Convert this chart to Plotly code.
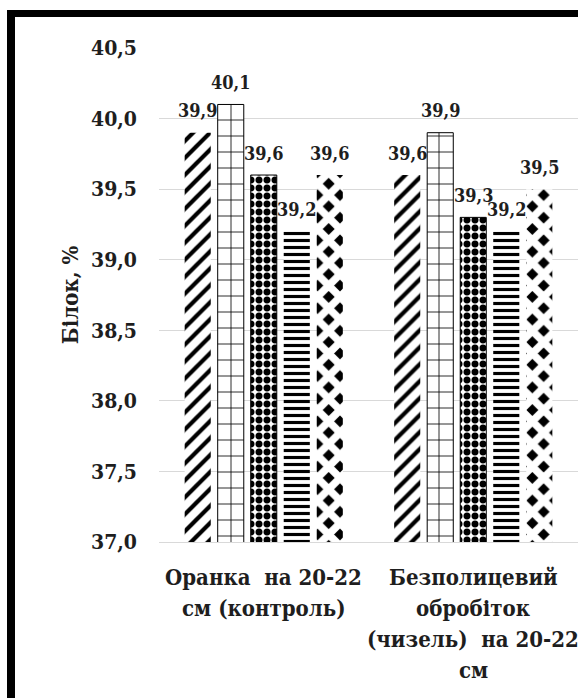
import plotly.graph_objects as go

# Protein content by tillage method, five treatments per tillage group
categories = [
    "Оранка\u00a0 на 20-22<br>см (контроль)",
    "Безполицевий<br>обробіток<br>(чизель)\u00a0 на 20-22<br>см",
]
series_names = ["Варіант 1", "Варіант 2", "Варіант 3", "Варіант 4", "Варіант 5"]
values_1 = [39.9, 39.6]
values_2 = [40.1, 39.9]
values_3 = [39.6, 39.3]
values_4 = [39.2, 39.2]
values_5 = [39.6, 39.5]
y_ticks = [37.0, 37.5, 38.0, 38.5, 39.0, 39.5, 40.0, 40.5]

series = [values_1, values_2, values_3, values_4, values_5]

# Black-and-white fill patterns, one per series
patterns = [
    dict(shape="/", size=12, solidity=0.35, fgcolor="black", bgcolor="white", fgopacity=1),
    dict(shape="+", size=16, solidity=0.1, fgcolor="black", bgcolor="white", fgopacity=1),
    dict(shape=".", size=8, solidity=0.6, fgcolor="black", bgcolor="white", fgopacity=1),
    dict(shape="-", size=7, solidity=0.45, fgcolor="black", bgcolor="white", fgopacity=1),
    dict(shape="x", size=16, solidity=0.72, fgcolor="white", bgcolor="black", fgopacity=1),
]
outline = [0, 1, 1, 0, 0]

W, H = 578, 698
ML, MR, MT, MB = 159, 0, 48, 156
BARGAP = 0.212
GROUPGAP = 0.21

SERIF = "DejaVu Serif Condensed, DejaVu Serif"
TXT = "#1e1e1e"

fig = go.Figure()
for name, vals, pat, lw in zip(series_names, series, patterns, outline):
    fig.add_trace(
        go.Bar(
            x=categories,
            y=vals,
            name=name,
            marker=dict(color="white", pattern=pat, line=dict(color="black", width=lw)),
            showlegend=False,
        )
    )

annotations = []

# Value labels centred above each bar of the grouped layout
n = len(series)
slot = (1 - BARGAP) / n
for i, vals in enumerate(series):
    offset = -(1 - BARGAP) / 2 + (i + 0.5) * slot
    for c, v in enumerate(vals):
        annotations.append(
            dict(
                x=c + offset,
                y=v,
                xref="x",
                yref="y",
                text=f"{v:.1f}".replace(".", ","),
                showarrow=False,
                yanchor="middle",
                yshift=22,
                font=dict(family=SERIF, size=18, color=TXT, weight="bold"),
            )
        )

# Category labels, one line at a time for wider line spacing
LINE_STEP = 31
for c, label in enumerate(categories):
    for k, line in enumerate(label.split("<br>")):
        annotations.append(
            dict(
                x=c,
                y=0,
                xref="x",
                yref="paper",
                text=line,
                showarrow=False,
                yanchor="middle",
                yshift=-(35 + k * LINE_STEP),
                font=dict(family=SERIF, size=22, color=TXT, weight="bold"),
            )
        )

# Heavy frame on the top and left edges
pw = W - ML - MR
ph = H - MT - MB


def px_x(p):
    return (p - ML) / pw


def px_y(p):
    return (H - MB - p) / ph


shapes = [
    dict(type="rect", xref="paper", yref="paper",
         x0=px_x(7), x1=px_x(W + 5), y0=px_y(17), y1=px_y(10),
         fillcolor="black", line=dict(width=0), layer="above"),
    dict(type="rect", xref="paper", yref="paper",
         x0=px_x(7), x1=px_x(15), y0=px_y(H + 5), y1=px_y(10),
         fillcolor="black", line=dict(width=0), layer="above"),
]

fig.update_layout(
    width=W,
    height=H,
    margin=dict(l=ML, r=MR, t=MT, b=MB, pad=0),
    paper_bgcolor="white",
    plot_bgcolor="white",
    barmode="group",
    bargap=BARGAP,
    bargroupgap=GROUPGAP,
    separators=",.",
    annotations=annotations,
    shapes=shapes,
    font=dict(family=SERIF, color=TXT),
)

fig.update_xaxes(
    type="category",
    range=[-0.5, 1.5],
    showgrid=False,
    showline=True,
    linecolor="#d9d9d9",
    linewidth=1,
    ticks="",
    showticklabels=False,
)
fig.update_yaxes(
    range=[37.0, 40.5],
    tickvals=y_ticks,
    tickformat=".1f",
    showgrid=True,
    gridcolor="#d9d9d9",
    gridwidth=1,
    zeroline=False,
    showline=False,
    ticks="",
    ticklabelstandoff=21,
    tickfont=dict(family=SERIF, size=21, color=TXT, weight="bold"),
    title=dict(
        text="Білок, %",
        standoff=6,
        font=dict(family=SERIF, size=22, color=TXT, weight="bold"),
    ),
)

fig.write_html("out.html")
